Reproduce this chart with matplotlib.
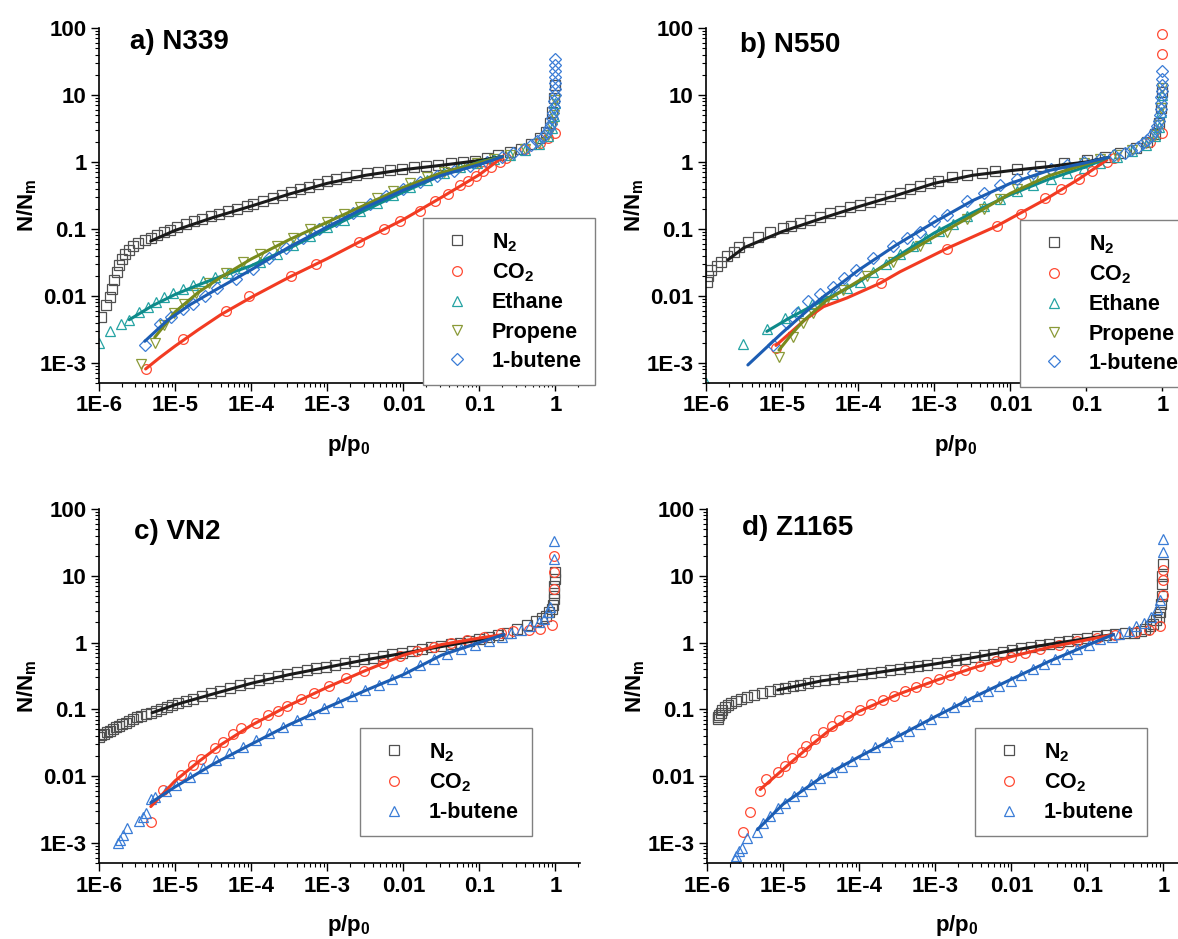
import numpy as np
import matplotlib.pyplot as plt
from matplotlib.ticker import FixedLocator, FixedFormatter, LogLocator, NullFormatter

plt.rcParams['font.family'] = ['Liberation Sans', 'DejaVu Sans']
plt.rcParams['font.weight'] = 'bold'
plt.rcParams['mathtext.default'] = 'regular'

# (p/p0, N/Nm) pairs, plus the fitted curves

# a) N339
a_n2 = [(1.05e-6, 4.8e-3), (1.23e-6, 7.4e-3), (1.38e-6, 9.5e-3), (1.48e-6, 0.0126), (1.58e-6, 0.017),
        (1.70e-6, 0.0224), (1.82e-6, 0.0288), (2.0e-6, 0.0355), (2.19e-6, 0.0417), (2.45e-6, 0.049),
        (2.82e-6, 0.056), (3.3e-6, 0.0617), (4.0e-6, 0.0676), (4.8e-6, 0.074), (5.75e-6, 0.081),
        (7.1e-6, 0.089), (8.5e-6, 0.095), (1.05e-5, 0.107), (1.38e-5, 0.117), (1.78e-5, 0.129),
        (2.29e-5, 0.141), (2.95e-5, 0.155), (3.8e-5, 0.166), (5.0e-5, 0.182), (6.6e-5, 0.20),
        (8.7e-5, 0.219), (1.05e-4, 0.234), (1.41e-4, 0.257), (1.91e-4, 0.288), (2.51e-4, 0.316),
        (3.3e-4, 0.355), (4.4e-4, 0.389), (5.75e-4, 0.427), (7.6e-4, 0.468), (1.0e-3, 0.513),
        (1.32e-3, 0.55), (1.74e-3, 0.589), (2.4e-3, 0.63), (3.3e-3, 0.676), (4.6e-3, 0.716),
        (6.6e-3, 0.759), (9.5e-3, 0.794), (0.0138, 0.832), (0.020, 0.871), (0.0288, 0.912),
        (0.0417, 0.955), (0.060, 1.0), (0.087, 1.05), (0.126, 1.15), (0.178, 1.26), (0.25, 1.41),
        (0.355, 1.58), (0.48, 1.86), (0.63, 2.24), (0.76, 2.82), (0.85, 3.8), (0.91, 5.6),
        (0.955, 8.9), (0.977, 14)]
a_n2_fit = [(4.8e-6, 0.066), (1e-5, 0.095), (3.16e-5, 0.148), (1e-4, 0.219), (3.16e-4, 0.331),
            (1e-3, 0.479), (3.16e-3, 0.631), (0.01, 0.767), (0.0316, 0.891), (0.1, 1.05), (0.2, 1.2)]
a_co2 = [(4.1e-6, 8.1e-4), (1.29e-5, 2.24e-3), (4.7e-5, 6.0e-3), (9.5e-5, 9.8e-3), (3.3e-4, 0.0195),
         (7.2e-4, 0.030), (2.63e-3, 0.063), (5.5e-3, 0.098), (9.1e-3, 0.129), (0.0166, 0.186),
         (0.0263, 0.26), (0.039, 0.331), (0.056, 0.447), (0.071, 0.525), (0.091, 0.617),
         (0.112, 0.724), (0.141, 0.832), (0.186, 1.0), (0.224, 1.15), (0.4, 1.58), (0.63, 1.9),
         (0.79, 2.3), (0.99, 2.7)]
a_co2_fit = [(4.1e-6, 8.1e-4), (6.3e-6, 1.2e-3), (1e-5, 1.78e-3), (2e-5, 3.1e-3), (4e-5, 5.25e-3),
             (1e-4, 9.5e-3), (3.16e-4, 0.019), (1e-3, 0.036), (3.16e-3, 0.071), (0.01, 0.138),
             (0.0316, 0.295), (0.1, 0.646), (0.2, 1.17)]
a_ethane = [(1.0e-6, 2.0e-3), (1.38e-6, 2.95e-3), (1.95e-6, 3.8e-3), (2.5e-6, 4.3e-3), (3.4e-6, 5.75e-3),
            (4.4e-6, 6.9e-3), (5.6e-6, 8.1e-3), (7.2e-6, 9.5e-3), (9.5e-6, 0.011), (1.26e-5, 0.0126),
            (1.7e-5, 0.0145), (2.3e-5, 0.0166), (3.3e-5, 0.019), (5.0e-5, 0.022), (7.9e-5, 0.0263),
            (1.32e-4, 0.0316), (2.2e-4, 0.0417), (3.6e-4, 0.0575), (6.0e-4, 0.0776), (1.0e-3, 0.105),
            (1.66e-3, 0.138), (2.7e-3, 0.182), (4.5e-3, 0.24), (7.4e-3, 0.316), (0.0123, 0.417),
            (0.0204, 0.537), (0.034, 0.676), (0.056, 0.832), (0.093, 0.977), (0.155, 1.12),
            (0.25, 1.29), (0.40, 1.51), (0.60, 1.86), (0.79, 2.4), (0.89, 3.2), (0.955, 4.8),
            (0.977, 7.6)]
a_ethane_fit = [(2.5e-6, 4.4e-3), (5e-6, 7.1e-3), (1e-5, 0.0105), (2e-5, 0.0145), (4e-5, 0.0195),
                (1e-4, 0.0282), (3.16e-4, 0.0513), (1e-3, 0.1), (3.16e-3, 0.19), (0.01, 0.355),
                (0.0316, 0.63), (0.1, 1.0), (0.2, 1.2)]
a_propene = [(3.6e-6, 9.5e-4), (5.4e-6, 2.0e-3), (7.2e-6, 3.7e-3), (9.8e-6, 5.5e-3), (1.32e-5, 7.6e-3),
             (1.9e-5, 0.011), (2.8e-5, 0.0155), (4.7e-5, 0.022), (7.9e-5, 0.0316), (1.32e-4, 0.0417),
             (2.2e-4, 0.056), (3.6e-4, 0.074), (6.0e-4, 0.098), (1.0e-3, 0.126), (1.66e-3, 0.166),
             (2.7e-3, 0.214), (4.5e-3, 0.288), (7.4e-3, 0.372), (0.0123, 0.479), (0.0204, 0.589),
             (0.034, 0.708), (0.056, 0.832), (0.093, 0.955), (0.155, 1.10), (0.25, 1.29), (0.40, 1.55),
             (0.60, 1.95), (0.79, 2.5), (0.89, 3.3), (0.955, 5.0), (0.977, 8.3)]
a_propene_fit = [(5.4e-6, 2.4e-3), (1e-5, 5.75e-3), (2e-5, 0.0112), (4e-5, 0.019), (1e-4, 0.0355),
                 (3.16e-4, 0.069), (1e-3, 0.126), (3.16e-3, 0.229), (0.01, 0.417), (0.0316, 0.69),
                 (0.1, 0.977), (0.2, 1.2)]
a_butene = [(4.0e-6, 1.86e-3), (6.3e-6, 3.8e-3), (8.9e-6, 4.9e-3), (1.26e-5, 6.3e-3), (1.7e-5, 7.6e-3),
            (2.45e-5, 9.8e-3), (3.6e-5, 0.0129), (6.3e-5, 0.0178), (1.05e-4, 0.0251), (1.74e-4, 0.0363),
            (2.9e-4, 0.0513), (4.8e-4, 0.0724), (7.9e-4, 0.098), (1.32e-3, 0.132), (2.2e-3, 0.174),
            (3.6e-3, 0.234), (6.0e-3, 0.309), (0.01, 0.398), (0.0166, 0.501), (0.0275, 0.617),
            (0.0457, 0.741), (0.076, 0.871), (0.126, 1.0), (0.20, 1.17), (0.28, 1.35), (0.38, 1.58),
            (0.48, 1.82), (0.575, 2.04), (0.676, 2.34), (0.76, 2.69), (0.83, 3.16), (0.88, 3.7),
            (0.91, 4.5), (0.933, 5.4), (0.95, 6.6), (0.964, 8.1), (0.973, 10), (0.98, 12.3),
            (0.984, 15.1), (0.989, 18.6), (0.991, 22.9), (0.993, 28.2), (0.995, 33.9)]
a_butene_fit = [(4.0e-6, 2.1e-3), (7.9e-6, 4.3e-3), (1.58e-5, 7.4e-3), (3.16e-5, 0.0117), (1e-4, 0.0245),
                (3.16e-4, 0.0537), (1e-3, 0.107), (3.16e-3, 0.209), (0.01, 0.38), (0.0316, 0.63),
                (0.1, 0.912), (0.2, 1.2)]

# b) N550
b_n2 = [(1.02e-6, 0.0162), (1.07e-6, 0.020), (1.17e-6, 0.024), (1.38e-6, 0.0282), (1.58e-6, 0.0324),
        (1.86e-6, 0.0389), (2.3e-6, 0.0457), (2.75e-6, 0.0537), (3.55e-6, 0.063), (4.8e-6, 0.0759),
        (6.9e-6, 0.089), (1.02e-5, 0.102), (1.32e-5, 0.112), (1.7e-5, 0.123), (2.3e-5, 0.135),
        (3.16e-5, 0.151), (4.3e-5, 0.17), (5.75e-5, 0.186), (7.8e-5, 0.209), (1.05e-4, 0.229),
        (1.41e-4, 0.251), (1.95e-4, 0.275), (2.63e-4, 0.309), (3.55e-4, 0.347), (4.8e-4, 0.389),
        (6.5e-4, 0.437), (8.7e-4, 0.49), (1.12e-3, 0.525), (1.7e-3, 0.589), (2.7e-3, 0.646),
        (4.2e-3, 0.692), (6.3e-3, 0.741), (0.0123, 0.794), (0.0245, 0.871), (0.050, 0.955),
        (0.102, 1.07), (0.178, 1.2), (0.28, 1.35), (0.45, 1.62), (0.63, 2.0), (0.79, 2.63),
        (0.89, 3.8), (0.955, 6.3), (0.977, 11.2)]
b_n2_fit = [(1.95e-6, 0.0347), (3.16e-6, 0.0525), (1e-5, 0.091), (3.16e-5, 0.141), (1e-4, 0.214),
            (3.16e-4, 0.316), (1e-3, 0.479), (3.16e-3, 0.631), (0.01, 0.741), (0.0316, 0.851),
            (0.1, 1.0), (0.195, 1.17)]
b_co2 = [(8.3e-6, 1.66e-3), (2.0e-4, 0.0155), (1.48e-3, 0.050), (6.6e-3, 0.11), (0.0138, 0.166),
         (0.0288, 0.288), (0.0468, 0.389), (0.081, 0.562), (0.12, 0.741), (0.186, 1.0), (0.23, 1.15),
         (0.69, 2.0), (1.0, 2.7), (1.0, 41), (1.0, 81)]
b_co2_fit = [(8.3e-6, 1.82e-3), (2e-5, 4.4e-3), (3.5e-5, 6.9e-3), (7.1e-5, 9.3e-3), (1.95e-4, 0.0155),
             (3.55e-4, 0.0229), (1.48e-3, 0.0513), (6.6e-3, 0.11), (0.0288, 0.275), (0.081, 0.562),
             (0.186, 1.07)]
b_ethane = [(1.0e-6, 5.0e-4), (3.1e-6, 1.9e-3), (6.3e-6, 3.2e-3), (1.1e-5, 4.7e-3), (1.62e-5, 6.0e-3),
            (2.45e-5, 7.6e-3), (3.55e-5, 9.1e-3), (4.7e-5, 0.0105), (7.1e-5, 0.0132), (1.05e-4, 0.0162),
            (1.58e-4, 0.0224), (2.34e-4, 0.030), (3.55e-4, 0.0417), (5.25e-4, 0.055), (7.9e-4, 0.0724),
            (1.17e-3, 0.093), (1.78e-3, 0.12), (2.7e-3, 0.158), (4.5e-3, 0.219), (7.4e-3, 0.282),
            (0.0123, 0.363), (0.020, 0.447), (0.034, 0.562), (0.056, 0.676), (0.093, 0.813),
            (0.151, 0.955), (0.25, 1.2), (0.40, 1.45), (0.60, 1.82), (0.79, 2.4), (0.89, 3.3),
            (0.955, 5.6), (0.977, 10)]
b_ethane_fit = [(6.3e-6, 2.95e-3), (1.26e-5, 4.7e-3), (2.5e-5, 7.1e-3), (5e-5, 0.0105), (1e-4, 0.0158),
                (3.16e-4, 0.038), (1e-3, 0.087), (3.16e-3, 0.174), (0.01, 0.324), (0.0316, 0.55),
                (0.1, 0.851), (0.195, 1.17)]
b_propene = [(9.1e-6, 1.23e-3), (1.38e-5, 2.45e-3), (1.9e-5, 3.9e-3), (2.57e-5, 5.5e-3), (3.8e-5, 8.3e-3),
             (6.3e-5, 0.0123), (1.29e-4, 0.0195), (2.9e-4, 0.0324), (6.5e-4, 0.055), (1.45e-3, 0.091),
             (2.7e-3, 0.141), (4.5e-3, 0.20), (7.4e-3, 0.282), (0.0123, 0.389), (0.020, 0.513),
             (0.034, 0.66), (0.056, 0.813), (0.093, 0.955), (0.151, 1.10), (0.25, 1.26), (0.40, 1.51),
             (0.60, 1.9), (0.79, 2.5), (0.89, 3.55), (0.955, 6.3), (0.977, 12.6)]
b_propene_fit = [(9.1e-6, 1.55e-3), (1.38e-5, 2.8e-3), (1.9e-5, 4.2e-3), (3.8e-5, 8.5e-3), (1e-4, 0.0166),
                 (3.16e-4, 0.0355), (1e-3, 0.076), (3.16e-3, 0.158), (0.01, 0.339), (0.0316, 0.617),
                 (0.1, 0.933), (0.195, 1.17)]
b_butene = [(7.6e-6, 1.86e-3), (1.15e-5, 3.9e-3), (1.58e-5, 5.6e-3), (2.2e-5, 8.3e-3), (3.16e-5, 0.0105),
            (4.7e-5, 0.0135), (6.6e-5, 0.0186), (9.5e-5, 0.0245), (1.58e-4, 0.0363), (2.9e-4, 0.055),
            (4.4e-4, 0.0724), (6.5e-4, 0.091), (9.8e-4, 0.129), (1.45e-3, 0.162), (2.7e-3, 0.263),
            (4.5e-3, 0.347), (7.4e-3, 0.447), (0.0123, 0.562), (0.020, 0.676), (0.034, 0.794),
            (0.056, 0.891), (0.093, 1.0), (0.151, 1.10), (0.23, 1.26), (0.32, 1.38), (0.38, 1.51),
            (0.47, 1.70), (0.55, 1.9), (0.63, 2.14), (0.71, 2.45), (0.79, 2.88), (0.85, 3.4),
            (0.89, 4.1), (0.92, 5.0), (0.944, 6.2), (0.96, 7.6), (0.97, 9.3), (0.98, 11.5),
            (0.986, 14.1), (0.991, 17.4), (0.995, 22.9)]
b_butene_fit = [(3.55e-6, 9.3e-4), (1e-5, 2.8e-3), (3.16e-5, 8.9e-3), (1e-4, 0.024), (3.16e-4, 0.0575),
                (1e-3, 0.126), (3.16e-3, 0.263), (0.01, 0.479), (0.0316, 0.741), (0.1, 0.977),
                (0.195, 1.17)]

# c) VN2
c_n2 = [(1.0e-6, 0.039), (1.07e-6, 0.041), (1.15e-6, 0.0427), (1.26e-6, 0.0457), (1.38e-6, 0.0479),
        (1.51e-6, 0.0513), (1.66e-6, 0.0537), (1.82e-6, 0.0562), (2.0e-6, 0.060), (2.24e-6, 0.063),
        (2.5e-6, 0.0676), (2.82e-6, 0.0708), (3.16e-6, 0.0759), (3.6e-6, 0.0794), (4.2e-6, 0.0851),
        (4.8e-6, 0.089), (5.6e-6, 0.0955), (6.6e-6, 0.102), (7.8e-6, 0.11), (9.1e-6, 0.117),
        (1.1e-5, 0.126), (1.38e-5, 0.135), (1.74e-5, 0.145), (2.24e-5, 0.158), (2.95e-5, 0.174),
        (3.9e-5, 0.19), (5.25e-5, 0.209), (7.1e-5, 0.229), (9.3e-5, 0.251), (1.26e-4, 0.272),
        (1.66e-4, 0.295), (2.24e-4, 0.316), (2.95e-4, 0.339), (4.0e-4, 0.363), (5.4e-4, 0.389),
        (7.1e-4, 0.412), (9.5e-4, 0.437), (1.26e-3, 0.468), (1.7e-3, 0.501), (2.24e-3, 0.531),
        (3.0e-3, 0.562), (4.0e-3, 0.596), (5.4e-3, 0.631), (7.1e-3, 0.668), (9.5e-3, 0.708),
        (0.0129, 0.759), (0.0174, 0.813), (0.0229, 0.851), (0.031, 0.891), (0.0417, 0.944),
        (0.055, 1.0), (0.074, 1.06), (0.098, 1.12), (0.132, 1.2), (0.174, 1.29), (0.234, 1.41),
        (0.31, 1.58), (0.417, 1.82), (0.55, 2.09), (0.66, 2.34), (0.74, 2.51), (0.83, 2.88),
        (0.89, 3.16), (0.92, 3.7), (0.944, 4.5), (0.955, 5.6), (0.966, 7.1), (0.973, 8.9), (0.977, 11.2)]
c_n2_fit = [(5e-6, 0.089), (1e-5, 0.117), (3.16e-5, 0.17), (1e-4, 0.245), (3.16e-4, 0.331), (1e-3, 0.427),
            (3.16e-3, 0.55), (0.01, 0.692), (0.0316, 0.871), (0.1, 1.1), (0.21, 1.32)]
c_co2 = [(4.8e-6, 2.04e-3), (6.9e-6, 6.2e-3), (1.2e-5, 0.0105), (1.7e-5, 0.0145), (2.2e-5, 0.0178),
         (3.3e-5, 0.0263), (4.3e-5, 0.0324), (5.75e-5, 0.0427), (7.4e-5, 0.0525), (1.17e-4, 0.0617),
         (1.66e-4, 0.083), (2.24e-4, 0.0955), (2.95e-4, 0.111), (4.5e-4, 0.145), (6.6e-4, 0.176),
         (1.07e-3, 0.221), (1.78e-3, 0.295), (3.0e-3, 0.372), (5.4e-3, 0.49), (9.1e-3, 0.631),
         (0.0151, 0.759), (0.0251, 0.871), (0.0417, 0.977), (0.069, 1.10), (0.115, 1.23), (0.19, 1.38),
         (0.28, 1.48), (0.447, 1.55), (0.63, 1.62), (0.89, 1.82), (0.97, 6.3), (0.97, 11.2), (0.97, 20)]
c_co2_fit = [(4.8e-6, 3.5e-3), (1e-5, 8.5e-3), (2e-5, 0.0162), (4e-5, 0.0295), (1e-4, 0.0575),
             (3.16e-4, 0.115), (1e-3, 0.214), (3.16e-3, 0.38), (0.01, 0.646), (0.0316, 0.933),
             (0.1, 1.17), (0.21, 1.32)]
c_butene = [(1.78e-6, 1.0e-3), (1.86e-6, 1.1e-3), (2.04e-6, 1.32e-3), (2.3e-6, 1.66e-3), (3.4e-6, 2.14e-3),
            (3.8e-6, 2.45e-3), (4.2e-6, 2.82e-3), (4.8e-6, 4.5e-3), (5.4e-6, 4.9e-3), (7.6e-6, 5.9e-3),
            (1.02e-5, 7.4e-3), (1.55e-5, 9.8e-3), (2.3e-5, 0.0132), (3.5e-5, 0.0174), (5.1e-5, 0.0219),
            (7.8e-5, 0.0269), (1.17e-4, 0.0347), (1.74e-4, 0.0437), (2.63e-4, 0.055), (4.0e-4, 0.069),
            (6.0e-4, 0.085), (9.1e-4, 0.105), (1.38e-3, 0.129), (2.1e-3, 0.158), (3.16e-3, 0.195),
            (4.8e-3, 0.234), (7.2e-3, 0.288), (0.011, 0.363), (0.0166, 0.468), (0.0251, 0.575),
            (0.038, 0.676), (0.0575, 0.794), (0.087, 0.933), (0.132, 1.07), (0.20, 1.23), (0.263, 1.38),
            (0.355, 1.55), (0.468, 1.74), (0.60, 2.0), (0.71, 2.29), (0.79, 2.82), (0.85, 3.4),
            (0.97, 17.8), (0.97, 33)]
c_butene_fit = [(4.8e-6, 4.0e-3), (1e-5, 6.9e-3), (3.16e-5, 0.0151), (1e-4, 0.030), (3.16e-4, 0.0589),
                (1e-3, 0.107), (3.16e-3, 0.191), (0.01, 0.331), (0.0316, 0.646), (0.1, 1.0), (0.21, 1.32)]

# d) Z1165
d_n2 = [(1.38e-6, 0.0716), (1.41e-6, 0.0759), (1.45e-6, 0.0813), (1.51e-6, 0.089), (1.58e-6, 0.0977),
        (1.7e-6, 0.107), (1.86e-6, 0.117), (2.09e-6, 0.126), (2.4e-6, 0.135), (2.82e-6, 0.145),
        (3.4e-6, 0.155), (4.2e-6, 0.166), (5.25e-6, 0.176), (6.8e-6, 0.188), (8.5e-6, 0.20),
        (1.07e-5, 0.211), (1.35e-5, 0.224), (1.66e-5, 0.234), (2.1e-5, 0.248), (2.63e-5, 0.263),
        (3.55e-5, 0.275), (4.7e-5, 0.288), (6.2e-5, 0.305), (8.1e-5, 0.32), (1.1e-4, 0.335),
        (1.45e-4, 0.351), (1.95e-4, 0.367), (2.57e-4, 0.385), (3.4e-4, 0.407), (4.5e-4, 0.427),
        (6.0e-4, 0.447), (7.9e-4, 0.468), (1.05e-3, 0.49), (1.41e-3, 0.513), (1.86e-3, 0.543),
        (2.45e-3, 0.575), (3.3e-3, 0.61), (4.4e-3, 0.646), (5.75e-3, 0.684), (7.8e-3, 0.733),
        (0.0102, 0.776), (0.0135, 0.822), (0.0182, 0.871), (0.024, 0.912), (0.0316, 0.966),
        (0.0427, 1.02), (0.056, 1.07), (0.074, 1.12), (0.10, 1.17), (0.132, 1.24), (0.178, 1.29),
        (0.234, 1.33), (0.31, 1.38), (0.41, 1.41), (0.50, 1.51), (0.575, 1.6), (0.66, 1.76),
        (0.72, 1.9), (0.79, 2.14), (0.86, 2.4), (0.90, 2.82), (0.933, 3.8), (0.944, 5.0),
        (0.955, 7.6), (0.966, 10), (0.977, 15)]
d_n2_fit = [(8.5e-6, 0.195), (3.16e-5, 0.266), (1e-4, 0.324), (3.16e-4, 0.394), (1e-3, 0.479),
            (3.16e-3, 0.596), (0.01, 0.759), (0.0316, 0.944), (0.1, 1.15), (0.22, 1.32)]
d_co2 = [(3.0e-6, 1.48e-3), (3.7e-6, 2.95e-3), (5.0e-6, 5.9e-3), (5.9e-6, 9.0e-3), (8.5e-6, 0.0114),
         (1.07e-5, 0.0143), (1.32e-5, 0.0186), (1.78e-5, 0.0226), (2.0e-5, 0.0285), (2.63e-5, 0.0359),
         (3.3e-5, 0.0452), (4.4e-5, 0.0569), (5.5e-5, 0.0692), (7.2e-5, 0.080), (1.02e-4, 0.0977),
         (1.45e-4, 0.12), (2.04e-4, 0.138), (2.9e-4, 0.16), (4.0e-4, 0.19), (5.6e-4, 0.219),
         (7.9e-4, 0.254), (1.12e-3, 0.285), (1.58e-3, 0.331), (2.45e-3, 0.389), (3.9e-3, 0.452),
         (6.2e-3, 0.525), (9.8e-3, 0.603), (0.0151, 0.692), (0.024, 0.794), (0.0427, 0.933),
         (0.074, 1.05), (0.132, 1.17), (0.234, 1.29), (0.437, 1.43), (0.646, 1.55), (0.89, 1.76),
         (0.977, 5.2), (0.977, 8.5), (0.977, 12)]
d_co2_fit = [(5e-6, 6.3e-3), (1e-5, 0.0126), (2e-5, 0.0251), (4e-5, 0.0479), (1e-4, 0.0933),
             (3.16e-4, 0.166), (1e-3, 0.269), (3.16e-3, 0.417), (0.01, 0.617), (0.0316, 0.851),
             (0.1, 1.1), (0.22, 1.32)]
d_butene = [(2.3e-6, 5.7e-4), (2.4e-6, 6.4e-4), (2.63e-6, 7.6e-4), (2.9e-6, 8.5e-4), (3.4e-6, 1.2e-3),
            (4.6e-6, 1.48e-3), (5.4e-6, 2.0e-3), (6.8e-6, 2.54e-3), (8.5e-6, 3.3e-3), (1.07e-5, 4.0e-3),
            (1.41e-5, 5.1e-3), (1.78e-5, 6.0e-3), (2.34e-5, 7.6e-3), (3.1e-5, 9.3e-3), (4.4e-5, 0.0114),
            (5.9e-5, 0.0138), (8.1e-5, 0.017), (1.15e-4, 0.0214), (1.62e-4, 0.0269), (2.3e-4, 0.032),
            (3.2e-4, 0.0394), (4.5e-4, 0.0479), (6.3e-4, 0.0603), (8.9e-4, 0.0716), (1.26e-3, 0.0902),
            (1.78e-3, 0.107), (2.45e-3, 0.132), (3.5e-3, 0.16), (4.9e-3, 0.191), (6.9e-3, 0.226),
            (9.8e-3, 0.269), (0.0135, 0.331), (0.019, 0.407), (0.0269, 0.479), (0.038, 0.569),
            (0.0537, 0.676), (0.074, 0.804), (0.105, 0.933), (0.148, 1.12), (0.209, 1.2), (0.263, 1.35),
            (0.347, 1.51), (0.437, 1.74), (0.55, 1.95), (0.69, 2.4), (0.81, 3.2), (0.91, 4.27),
            (1.0, 22.6), (1.0, 35.9)]
d_butene_fit = [(4.6e-6, 1.58e-3), (1e-5, 3.8e-3), (3.16e-5, 9.5e-3), (1e-4, 0.0195), (3.16e-4, 0.0389),
                (1e-3, 0.0776), (3.16e-3, 0.151), (0.01, 0.282), (0.0316, 0.525), (0.1, 0.912),
                (0.22, 1.32)]

x_ticks = [1e-6, 1e-5, 1e-4, 1e-3, 1e-2, 1e-1, 1]
x_tick_labels = ['1E-6', '1E-5', '1E-4', '1E-3', '0.01', '0.1', '1']
y_ticks = [1e-3, 1e-2, 1e-1, 1, 10, 100]
y_tick_labels = ['1E-3', '0.01', '0.1', '1', '10', '100']

styles = {
    'N2': dict(label='N$_2$', marker='s', ms=6.5, mc='#505050', lc='#1a1a1a'),
    'CO2': dict(label='CO$_2$', marker='o', ms=7, mc='#ff4a33', lc='#f23b22'),
    'Ethane': dict(label='Ethane', marker='^', ms=7.5, mc='#25a3a3', lc='#0e8a8a'),
    'Propene': dict(label='Propene', marker='v', ms=7.5, mc='#8a9a38', lc='#788a1c'),
    '1-butene': dict(label='1-butene', marker='D', ms=6, mc='#3a7cd6', lc='#1c5db3'),
    # panels c and d draw 1-butene with up triangles
    '1-butene tri': dict(label='1-butene', marker='^', ms=7.5, mc='#3a7cd6', lc='#1c5db3'),
}

W, H = 1178, 939
fig = plt.figure(figsize=(W / 100, H / 100), dpi=100)


def draw_panel(rect, title, title_xy, series, legend_xy):
    ax = fig.add_axes(rect)
    for name, pts, fit in series:
        st = styles[name]
        p, n = zip(*pts)
        ax.plot(p, n, ls='none', marker=st['marker'], ms=st['ms'], mfc='none',
                mec=st['mc'], mew=0.9, label=st['label'], zorder=2)
    for name, pts, fit in series:
        fp, fn = zip(*fit)
        ax.plot(fp, fn, color=styles[name]['lc'], lw=2.2, zorder=3, solid_capstyle='round')

    ax.set_xscale('log')
    ax.set_yscale('log')
    ax.set_xlim(1e-6, 2.1)
    ax.set_ylim(5e-4, 100)
    ax.xaxis.set_major_locator(FixedLocator(x_ticks))
    ax.xaxis.set_major_formatter(FixedFormatter(x_tick_labels))
    ax.yaxis.set_major_locator(FixedLocator(y_ticks))
    ax.yaxis.set_major_formatter(FixedFormatter(y_tick_labels))
    for axis in (ax.xaxis, ax.yaxis):
        axis.set_minor_locator(LogLocator(base=10, subs=np.arange(2, 10) * 1.0, numticks=30))
        axis.set_minor_formatter(NullFormatter())
    ax.tick_params(which='major', direction='out', length=5.5, width=1.0, labelsize=16, pad=3.5)
    ax.tick_params(which='minor', direction='out', length=3, width=0.8)
    for lab in ax.get_xticklabels() + ax.get_yticklabels():
        lab.set_fontweight('bold')
    ax.spines['top'].set_visible(False)
    ax.spines['right'].set_visible(False)
    ax.spines['left'].set_linewidth(1.2)
    ax.spines['bottom'].set_linewidth(1.2)

    ax.set_xlabel('p/p$_0$', fontsize=16, fontweight='bold')
    ax.set_ylabel('N/N$_m$', fontsize=16, fontweight='bold')
    ax.xaxis.set_label_coords(0.52, -0.14)
    ax.yaxis.set_label_coords(-0.125, 0.5)

    fig.text(title_xy[0] / W, 1 - title_xy[1] / H, title, fontsize=20, fontweight='bold',
             ha='left', va='center')

    leg = ax.legend(loc='upper left', bbox_to_anchor=(legend_xy[0] / W, 1 - legend_xy[1] / H),
                    bbox_transform=fig.transFigure, borderaxespad=0, frameon=True, fancybox=False,
                    framealpha=1, edgecolor='#808080', fontsize=15.5, numpoints=1,
                    handlelength=2.0, handletextpad=0.6, borderpad=0.6, labelspacing=0.38)
    leg.get_frame().set_linewidth(1.0)
    for t in leg.get_texts():
        t.set_fontweight('bold')
    return ax


# axes rectangles in figure fractions (from pixel positions of the reference)
top_y, bot_y = 1 - 383 / H, 1 - 863 / H
ax_w, ax_h = 481 / W, 355 / H

draw_panel([99 / W, top_y, ax_w, ax_h], 'a) N339', (130, 42),
           [('N2', a_n2, a_n2_fit), ('CO2', a_co2, a_co2_fit), ('Ethane', a_ethane, a_ethane_fit),
            ('Propene', a_propene, a_propene_fit), ('1-butene', a_butene, a_butene_fit)],
           (423, 218))
draw_panel([706 / W, top_y, ax_w, ax_h], 'b) N550', (740, 45),
           [('N2', b_n2, b_n2_fit), ('CO2', b_co2, b_co2_fit), ('Ethane', b_ethane, b_ethane_fit),
            ('Propene', b_propene, b_propene_fit), ('1-butene', b_butene, b_butene_fit)],
           (1020, 220))
draw_panel([99 / W, bot_y, ax_w, 354 / H], 'c) VN2', (134, 532),
           [('N2', c_n2, c_n2_fit), ('CO2', c_co2, c_co2_fit),
            ('1-butene tri', c_butene, c_butene_fit)],
           (360, 728))
draw_panel([707 / W, bot_y, ax_w, 354 / H], 'd) Z1165', (742, 528),
           [('N2', d_n2, d_n2_fit), ('CO2', d_co2, d_co2_fit),
            ('1-butene tri', d_butene, d_butene_fit)],
           (975, 728))

fig.savefig('out.png', dpi=100)
